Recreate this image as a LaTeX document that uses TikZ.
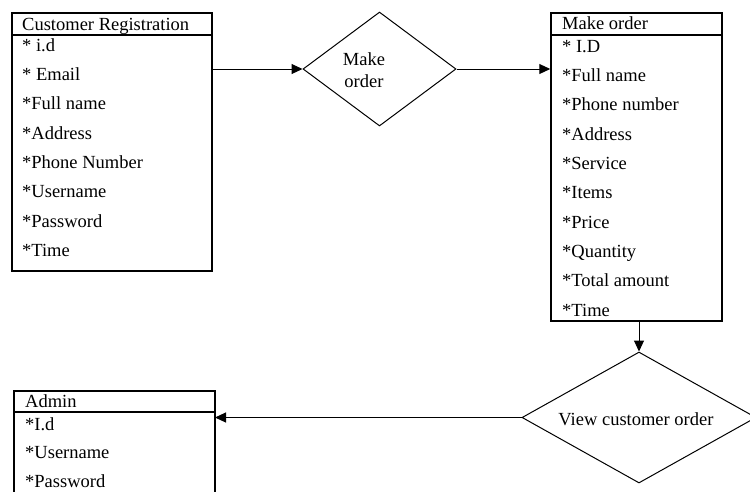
\documentclass[tikz,border=0pt]{standalone}
\usepackage{fontspec}
\setmainfont{Liberation Serif}
\usetikzlibrary{shapes.geometric,arrows.meta}

\tikzset{
  entity/.style={draw, line width=1.5pt, rectangle, inner sep=0pt},
  relation/.style={draw, line width=1pt, diamond, inner sep=0pt},
  field/.style={anchor=mid west, inner sep=0pt, font=\fontsize{18.5}{21}\selectfont},
  label/.style={inner sep=0pt, align=center, font=\fontsize{18.5}{21.5}\selectfont},
  link/.style={line width=1pt, -{Triangle[length=11pt,width=10pt]}},
  plain/.style={line width=1pt}
}

\begin{document}
\begin{tikzpicture}[x=1pt,y=-1pt]
\clip (0,0) rectangle (750,491);
\fill[white] (0,0) rectangle (750,491);

% Customer Registration entity
\node[entity, minimum width=200pt, minimum height=258pt] (cust) at (112,142) {};
\draw[line width=1.5pt] (12,35) -- (212,35);
\node[field] (custh) at (22,28) {Customer Registration};
\foreach \t [count=\i from 0] in {{* i.d},{* Email},{*Full name},{*Address},{*Phone Number},{*Username},{*Password},{*Time}}
  \node[field] (cust\i) at (22,{49+29.3*\i}) {\t};

% Make order entity
\node[entity, minimum width=171pt, minimum height=308pt] (mo) at (636.5,167) {};
\draw[line width=1.5pt] (551,35) -- (722,35);
\node[field] (moh) at (562,27) {Make order};
\foreach \t [count=\i from 0] in {{* I.D},{*Full name},{*Phone number},{*Address},{*Service},{*Items},{*Price},{*Quantity},{*Total amount},{*Time}}
  \node[field] (mo\i) at (562,{50+29.3*\i}) {\t};

% Admin entity (continues below the lower edge)
\node[entity, minimum width=201pt, minimum height=140pt] (adm) at (114.5,461) {};
\draw[line width=1.5pt] (14,412) -- (215,412);
\node[field] (admh) at (25,405) {Admin};
\foreach \t [count=\i from 0] in {{*I.d},{*Username},{*Password}}
  \node[field] (adm\i) at (25,{428+28.5*\i}) {\t};

% Relationships
\node[relation, minimum width=153pt, minimum height=114pt] (rel1) at (379.5,69) {};
\node[label] (rel1t) at (364,70) {Make\\order};
\node[relation, minimum width=234pt, minimum height=131pt] (rel2) at (639,417.5) {};
\node[label] (rel2t) at (636,419) {View customer order};

% Connectors
\coordinate (c1) at (212,69);
\coordinate (c2) at (639,320);
\coordinate (c3) at (215,417.5);
\draw[link] (c1) -- (rel1.west);
\draw[link] (rel1.east) -- (rel1.east -| mo.west);
\draw[link] (c2) -- (rel2.north);
\draw[link] (rel2.west) -- (c3);
\end{tikzpicture}
\end{document}
